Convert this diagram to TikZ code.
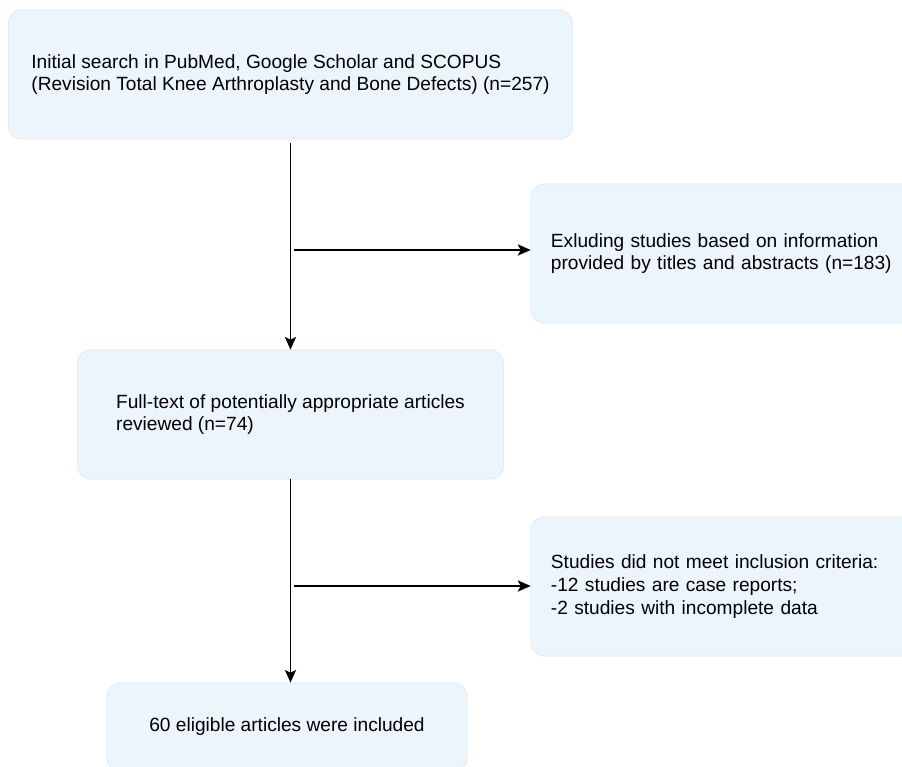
\documentclass[tikz,border=0pt]{standalone}
\usepackage{fontspec}
\setmainfont{Liberation Sans}
\usetikzlibrary{arrows.meta, calc}
\definecolor{boxfill}{RGB}{236, 244, 252}
\definecolor{boxline}{RGB}{218, 231, 245}

\begin{document}
\begin{tikzpicture}[x=0.025cm, y=-0.025cm,
    box/.style={rectangle, rounded corners=0.32cm, draw=boxline, fill=boxfill, line width=0.4pt,
        font=\fontsize{13.6}{16.2}\selectfont, align=left, inner sep=0pt},
    flow/.style={line width=1.2pt, -{Stealth[length=0.32cm, width=0.28cm, inset=0.07cm]}}]
    \useasboundingbox (0,0) rectangle (902,767);
    \clip (0,0) rectangle (902,767);

    \node[box, minimum width=14.1cm, minimum height=3.225cm] (search) at (290.5, 74.5)
        {Initial search in PubMed, Google Scholar and SCOPUS\\(Revision Total Knee Arthroplasty and Bone Defects) (n=257)};
    \node[box, minimum height=3.475cm, inner xsep=0.5cm, text width=10cm] (exclude) at (751, 253.5)
        {Exluding studies based on information\\provided by titles and abstracts (n=183)};
    \node[box, minimum width=10.65cm, minimum height=3.225cm] (fulltext) at (290.5, 414.5)
        {Full-text of potentially appropriate articles\\reviewed (n=74)};
    \node[box, minimum height=3.475cm, inner xsep=0.5cm, text width=10cm] (criteria) at (751, 586.5)
        {Studies did not meet inclusion criteria:\\-12 studies are case reports;\\-2 studies with incomplete data};
    \node[box, minimum width=9cm, minimum height=2.2cm, align=center] (included) at (287, 727)
        {60 eligible articles were included};

    \coordinate (split1) at (294, 250);
    \coordinate (split2) at (294, 586);

    \draw[flow, shorten <=0.1cm] (search.south) -- (search.south |- fulltext.north);
    \draw[flow] (fulltext.south) -- (fulltext.south |- included.north);
    \draw[flow] (split1) -- (split1 -| exclude.west);
    \draw[flow] (split2) -- (split2 -| criteria.west);
\end{tikzpicture}
\end{document}
